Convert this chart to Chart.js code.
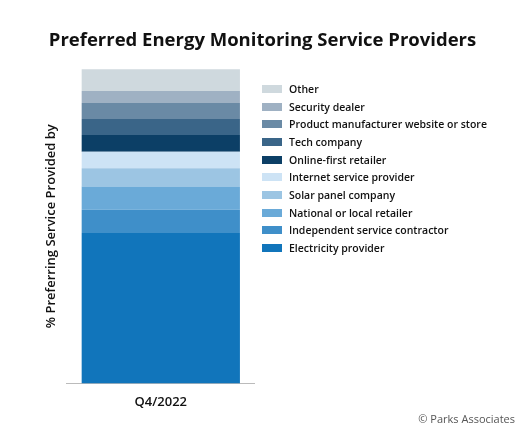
<!DOCTYPE html>
<html><head><meta charset="utf-8">
<script src="https://cdn.jsdelivr.net/npm/chart.js@4"></script>
<style>body{margin:0;background:#fff}#wrap{width:525px;height:430px;position:relative}
#title{position:absolute;left:0;width:525px;top:26px;text-align:center;font:bold 18.5px "Open Sans";color:#111}
#foot{position:absolute;right:10px;top:411px;font:11px "Open Sans";color:#555}
#leg{position:absolute;left:262px;top:80px}
#leg div{height:17.7px;display:flex;align-items:center;font:600 10.5px "Open Sans";color:#111}
#leg span{display:inline-block;width:20px;height:8px;margin-right:7px}</style>
</head><body><div id="wrap"><canvas id="c" width="525" height="430"></canvas>
<div id="title">Preferred Energy Monitoring Service Providers</div>
<div id="leg"></div><div id="foot">© Parks Associates</div></div>
<script>
const categories = ['Q4/2022'];
const seriesNames = ['Electricity provider','Independent service contractor','National or local retailer','Solar panel company','Internet service provider','Online-first retailer','Tech company','Product manufacturer website or store','Security dealer','Other'];
const seriesValues = [47.8, 7.4, 7.4, 5.8, 5.3, 5.3, 5.1, 5.1, 3.8, 6.9];
const colors = ['#1175bb','#3f8fc9','#6aaad8','#9cc5e3','#cde3f5','#0c3f66','#3a6588','#6a8aa5','#9fb1c3','#cfd9de'];

const leg = document.getElementById('leg');
for (let i = seriesNames.length - 1; i >= 0; i--) {
  const d = document.createElement('div');
  d.innerHTML = '<span style="background:' + colors[i] + '"></span>' + seriesNames[i];
  leg.appendChild(d);
}

new Chart(document.getElementById('c'), {
  type: 'bar',
  data: {
    labels: categories,
    datasets: seriesNames.map((n, i) => ({label: n, data: [seriesValues[i]], backgroundColor: colors[i],
      categoryPercentage: 0.84, barPercentage: 1}))
  },
  options: {
    responsive: false, animation: false,
    layout: {padding: {top: 69, left: 35, right: 270, bottom: 17}},
    plugins: {legend: {display: false}, tooltip: {enabled: false}},
    scales: {
      x: {stacked: true, grid: {display: false}, border: {color: '#bbb'},
        ticks: {color: '#111', font: {family: 'Open Sans', size: 13, weight: '600'}}},
      y: {stacked: true, min: 0, max: 100, grid: {display: false}, border: {display: false},
        ticks: {display: false},
        title: {display: true, text: '% Preferring Service Provided by', color: '#111',
          padding: {top: 8, bottom: 0},
          font: {family: 'Open Sans', size: 13, weight: '600'}}}
    }
  }
});
</script></body></html>
